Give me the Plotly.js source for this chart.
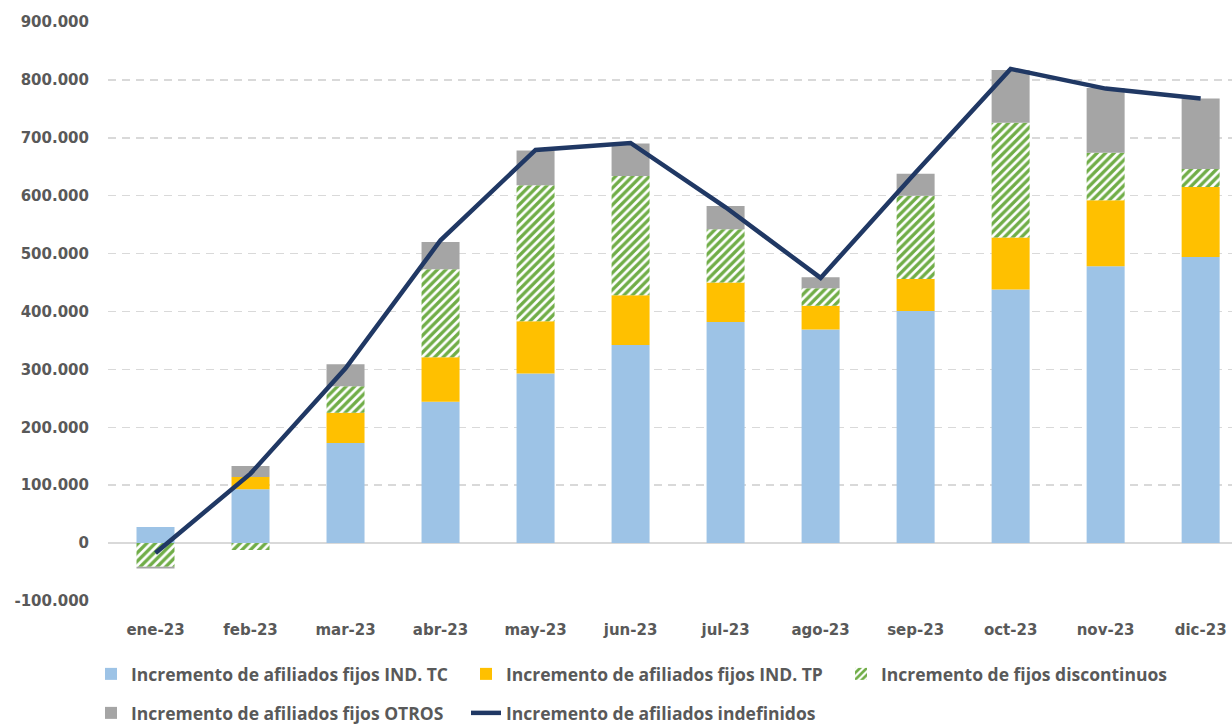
<!DOCTYPE html>
<html>
<head>
<meta charset="utf-8">
<script src="https://cdn.plot.ly/plotly-3.0.1.min.js"></script>
<style>html,body{margin:0;padding:0;background:#fff;}#chart{width:1232px;height:725px;}</style>
</head>
<body>
<div id="chart"></div>
<script>
var months = ['ene-23','feb-23','mar-23','abr-23','may-23','jun-23','jul-23','ago-23','sep-23','oct-23','nov-23','dic-23'];
var fijosTC    = [28000, 93000, 173000, 244000, 293000, 342000, 382000, 369000, 401000, 438000, 478000, 494000];
var fijosTP    = [0, 21000, 52000, 77000, 90000, 86000, 68000, 41000, 55000, 90000, 114000, 121000];
var discont    = [-41000, -12000, 46000, 152000, 235000, 206000, 92000, 30000, 144000, 198000, 82000, 31000];
var otros      = [-3000, 19000, 38000, 47000, 60000, 56000, 40000, 19000, 38000, 91000, 112000, 122000];
var indefinidos= [-17000, 120000, 302000, 523000, 679000, 691000, 580000, 458000, 640000, 819000, 785000, 768000];
var yTickVals  = [-100000, 0, 100000, 200000, 300000, 400000, 500000, 600000, 700000, 800000, 900000];
var yTickText  = ['-100.000', '0', '100.000', '200.000', '300.000', '400.000', '500.000', '600.000', '700.000', '800.000', '900.000'];

var legendFont = {family: '"Open Sans", sans-serif', size: 17.5, color: '#595959', weight: 'bold'};

var traces = [
  {type: 'bar', name: 'Incremento de afiliados fijos IND. TC', x: months, y: fijosTC,
   marker: {color: '#9DC3E6'}, legend: 'legend'},
  {type: 'bar', name: 'Incremento de afiliados fijos IND. TP', x: months, y: fijosTP,
   marker: {color: '#FFC000'}, legend: 'legend'},
  {type: 'bar', name: 'Incremento de fijos discontinuos', x: months, y: discont,
   marker: {color: '#70AD47', pattern: {shape: '/', fgcolor: '#70AD47', bgcolor: '#FFFFFF', size: 6, solidity: 0.55}},
   legend: 'legend'},
  {type: 'bar', name: 'Incremento de afiliados fijos OTROS', x: months, y: otros,
   marker: {color: '#A5A5A5'}, legend: 'legend2'},
  {type: 'scatter', mode: 'lines', name: 'Incremento de afiliados indefinidos', x: months, y: indefinidos,
   line: {color: '#203864', width: 4.5}, legend: 'legend2'}
];

var layout = {
  width: 1232, height: 725,
  margin: {l: 108, r: 0, t: 22, b: 124},
  paper_bgcolor: '#FFFFFF', plot_bgcolor: '#FFFFFF',
  barmode: 'relative',
  bargap: 0.6,
  showlegend: true,
  xaxis: {
    type: 'category',
    range: [-0.5, 11.33],
    showgrid: false, showline: false, zeroline: false,
    ticks: '',
    ticklabelstandoff: 18,
    tickfont: {family: '"DejaVu Sans", sans-serif', size: 15, color: '#595959', weight: 'bold'}
  },
  yaxis: {
    range: [-100000, 900000],
    tickvals: yTickVals, ticktext: yTickText,
    showgrid: true, gridcolor: '#D9D9D9', gridwidth: 1.5, griddash: '8px,6px',
    zeroline: true, zerolinecolor: '#D9D9D9', zerolinewidth: 1.5,
    showline: false, ticks: '',
    ticklabelstandoff: 18,
    tickfont: {family: '"DejaVu Sans", sans-serif', size: 15, color: '#595959', weight: 'bold'}
  },
  legend: {
    orientation: 'h', xref: 'container', yref: 'container',
    x: 91/1232, xanchor: 'left', y: 1 - 674/725, yanchor: 'middle',
    entrywidth: 330, entrywidthmode: 'pixels',
    font: legendFont, bgcolor: 'rgba(0,0,0,0)', borderwidth: 0, traceorder: 'normal'
  },
  legend2: {
    orientation: 'h', xref: 'container', yref: 'container',
    x: 91/1232, xanchor: 'left', y: 1 - 713/725, yanchor: 'middle',
    entrywidth: 330, entrywidthmode: 'pixels',
    font: legendFont, bgcolor: 'rgba(0,0,0,0)', borderwidth: 0, traceorder: 'normal'
  }
};

Plotly.newPlot('chart', traces, layout, {displayModeBar: false, staticPlot: true});
</script>
</body>
</html>
